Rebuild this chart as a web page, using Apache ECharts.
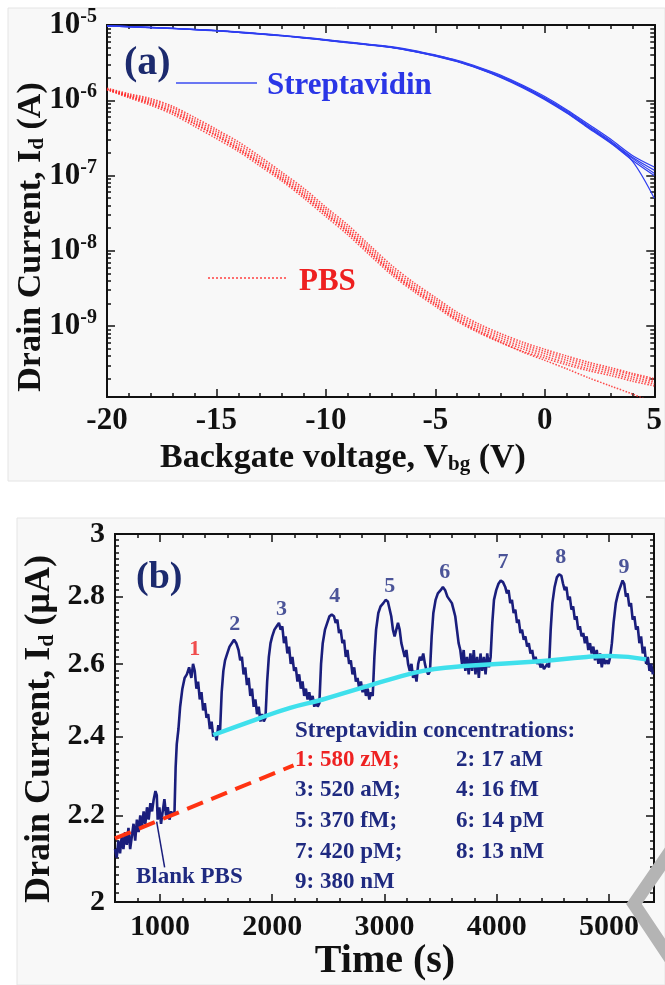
<!DOCTYPE html>
<html><head><meta charset="utf-8">
<script src="https://cdn.jsdelivr.net/npm/echarts@6/dist/echarts.min.js"></script>
<style>html,body{margin:0;padding:0;background:#fff}#c{width:665px;height:985px}</style>
</head><body><div id="c"></div>
<script>
// ---------- Panel (a) data ----------
const vbg = [-20,-19,-18,-17,-16,-15,-14,-13,-12,-11,-10,-9,-8,-7,-6,-5,-4,-3,-2,-1,0,1,2,3,4,5];
const strepA = [9.7e-6,9.5e-6,9.25e-6,9.0e-6,8.7e-6,8.4e-6,8.0e-6,7.6e-6,7.2e-6,6.75e-6,6.3e-6,5.85e-6,5.45e-6,5.05e-6,4.5e-6,3.9e-6,3.3e-6,2.65e-6,2.05e-6,1.51e-6,1.06e-6,7.05e-7,4.46e-7,2.82e-7,1.69e-7,1.07e-7];
const strepB = [9.7e-6,9.5e-6,9.3e-6,9.05e-6,8.75e-6,8.45e-6,8.1e-6,7.7e-6,7.3e-6,6.85e-6,6.4e-6,5.95e-6,5.55e-6,5.15e-6,4.62e-6,4.0e-6,3.4e-6,2.75e-6,2.15e-6,1.58e-6,1.12e-6,7.5e-7,4.8e-7,3.05e-7,1.85e-7,1.3e-7];
const strepC = [9.7e-6,9.45e-6,9.2e-6,8.95e-6,8.65e-6,8.35e-6,7.95e-6,7.55e-6,7.15e-6,6.7e-6,6.25e-6,5.8e-6,5.4e-6,5.0e-6,4.45e-6,3.85e-6,3.25e-6,2.6e-6,2.0e-6,1.46e-6,1.02e-6,6.75e-7,4.25e-7,2.7e-7,1.6e-7,1.0e-7];
const strepD = [9.7e-6,9.5e-6,9.25e-6,9.0e-6,8.7e-6,8.4e-6,8.0e-6,7.6e-6,7.2e-6,6.75e-6,6.3e-6,5.85e-6,5.45e-6,5.02e-6,4.47e-6,3.87e-6,3.27e-6,2.62e-6,2.02e-6,1.49e-6,1.04e-6,6.9e-7,4.35e-7,2.75e-7,1.55e-7,5.0e-8];
const strepE = [9.75e-6,9.55e-6,9.3e-6,9.05e-6,8.75e-6,8.45e-6,8.05e-6,7.65e-6,7.25e-6,6.8e-6,6.35e-6,5.9e-6,5.5e-6,5.08e-6,4.55e-6,3.95e-6,3.35e-6,2.7e-6,2.1e-6,1.54e-6,1.08e-6,7.25e-7,4.6e-7,2.9e-7,1.75e-7,1.18e-7];
const pbsA = [1.4e-6,1.15e-6,9.6e-7,7.4e-7,5.2e-7,3.6e-7,2.4e-7,1.53e-7,9.6e-8,5.8e-8,3.3e-8,1.89e-8,1.02e-8,5.5e-9,3.3e-9,2.1e-9,1.33e-9,9.3e-10,6.9e-10,5.3e-10,4.3e-10,3.5e-10,2.9e-10,2.5e-10,2.1e-10,1.8e-10];
const pbsB = [1.45e-6,1.22e-6,1.05e-6,8.3e-7,5.9e-7,4.1e-7,2.8e-7,1.78e-7,1.1e-7,6.7e-8,3.8e-8,2.2e-8,1.18e-8,6.4e-9,3.8e-9,2.4e-9,1.52e-9,1.06e-9,7.9e-10,6.1e-10,4.9e-10,4.0e-10,3.3e-10,2.8e-10,2.35e-10,2.0e-10];
const pbsC = [1.38e-6,1.08e-6,8.6e-7,6.5e-7,4.5e-7,3.1e-7,2.1e-7,1.33e-7,8.4e-8,5.0e-8,2.85e-8,1.63e-8,8.8e-9,4.8e-9,2.9e-9,1.83e-9,1.16e-9,8.1e-10,6.0e-10,4.6e-10,3.75e-10,3.05e-10,2.55e-10,2.2e-10,1.85e-10,1.6e-10];
const pbsD = [1.4e-6,1.12e-6,9.2e-7,7.0e-7,4.9e-7,3.4e-7,2.25e-7,1.45e-7,9.0e-8,5.4e-8,3.1e-8,1.78e-8,9.6e-9,5.2e-9,3.1e-9,1.95e-9,1.22e-9,8.4e-10,6.1e-10,4.5e-10,3.5e-10,2.7e-10,2.05e-10,1.6e-10,1.25e-10,9.5e-11];
const pbsE = [1.42e-6,1.18e-6,1.0e-6,7.9e-7,5.5e-7,3.85e-7,2.6e-7,1.65e-7,1.03e-7,6.2e-8,3.55e-8,2.03e-8,1.1e-8,5.9e-9,3.55e-9,2.25e-9,1.42e-9,9.9e-10,7.4e-10,5.7e-10,4.6e-10,3.75e-10,3.1e-10,2.65e-10,2.25e-10,1.9e-10];
const pbsF = [1.39e-6,1.12e-6,9.0e-7,6.9e-7,4.85e-7,3.35e-7,2.25e-7,1.43e-7,8.9e-8,5.4e-8,3.08e-8,1.76e-8,9.5e-9,5.15e-9,3.1e-9,1.97e-9,1.24e-9,8.7e-10,6.45e-10,4.95e-10,4.0e-10,3.25e-10,2.7e-10,2.35e-10,1.97e-10,1.7e-10];
const currentTickLabelsA = [1e-9,1e-8,1e-7,1e-6,1e-5];

// ---------- Panel (b) data ----------
const traceTimeCurrent = [
[600,2.12],[615,2.10],[630,2.14],[645,2.11],[660,2.15],[675,2.12],[690,2.16],[705,2.13],[720,2.17],[735,2.12],
[750,2.15],[765,2.18],[780,2.14],[795,2.19],[810,2.16],[825,2.20],[840,2.17],[855,2.21],[870,2.18],[885,2.22],
[900,2.19],[915,2.23],[930,2.21],[945,2.24],[960,2.26],[972,2.25],[980,2.19],[995,2.22],[1010,2.18],[1025,2.21],
[1040,2.24],[1055,2.20],[1070,2.22],[1085,2.19],[1100,2.21],[1115,2.20],[1130,2.21],
[1140,2.32],[1150,2.38],[1165,2.42],[1180,2.48],[1200,2.53],[1220,2.56],[1240,2.57],[1260,2.59],[1280,2.56],[1295,2.60],[1310,2.58],
[1325,2.53],[1340,2.55],[1355,2.50],[1370,2.52],[1385,2.47],[1400,2.49],[1415,2.45],[1430,2.46],[1445,2.42],[1460,2.44],
[1475,2.40],[1490,2.41],[1505,2.39],[1520,2.43],[1535,2.41],
[1550,2.52],[1565,2.58],[1580,2.61],[1600,2.63],[1620,2.65],[1640,2.66],[1660,2.67],[1680,2.66],[1700,2.64],[1715,2.61],
[1730,2.62],[1745,2.57],[1760,2.59],[1775,2.54],[1790,2.56],[1805,2.51],[1820,2.53],[1835,2.48],[1850,2.50],[1865,2.46],
[1880,2.48],[1895,2.44],[1910,2.46],[1925,2.44],[1940,2.45],
[1955,2.55],[1970,2.62],[1985,2.66],[2000,2.68],[2020,2.70],[2040,2.71],[2060,2.72],[2075,2.70],[2090,2.71],[2105,2.66],
[2120,2.68],[2135,2.63],[2150,2.65],[2165,2.60],[2180,2.62],[2195,2.58],[2210,2.59],[2225,2.55],[2240,2.57],[2255,2.53],
[2270,2.55],[2285,2.51],[2300,2.53],[2315,2.50],[2330,2.52],[2345,2.49],[2360,2.51],[2375,2.48],[2390,2.50],[2405,2.48],[2420,2.49],
[2435,2.60],[2450,2.66],[2470,2.70],[2490,2.72],[2510,2.74],[2530,2.745],[2550,2.74],[2565,2.72],[2580,2.73],[2595,2.69],
[2610,2.70],[2625,2.66],[2640,2.67],[2655,2.62],[2670,2.64],[2685,2.60],[2700,2.61],[2715,2.57],[2730,2.59],[2745,2.55],
[2760,2.56],[2775,2.53],[2790,2.55],[2805,2.52],[2820,2.54],[2835,2.51],[2850,2.53],[2865,2.50],[2880,2.52],[2895,2.51],
[2910,2.62],[2925,2.70],[2945,2.75],[2965,2.77],[2990,2.78],[3010,2.79],[3030,2.785],[3045,2.78],[3060,2.74],[3075,2.70],
[3090,2.68],[3105,2.70],[3120,2.72],[3135,2.70],[3150,2.66],[3165,2.64],[3180,2.62],[3195,2.64],[3210,2.60],[3225,2.58],
[3240,2.60],[3255,2.56],[3270,2.58],[3285,2.55],[3300,2.60],[3315,2.62],[3330,2.61],[3345,2.63],[3360,2.60],[3375,2.58],
[3390,2.57],[3405,2.58],
[3420,2.68],[3435,2.75],[3455,2.79],[3475,2.81],[3500,2.82],[3520,2.83],[3540,2.82],[3560,2.80],[3580,2.79],[3600,2.78],
[3615,2.76],[3630,2.74],[3645,2.70],[3660,2.66],[3675,2.64],[3690,2.60],[3705,2.64],[3720,2.58],[3735,2.62],[3750,2.57],
[3765,2.63],[3780,2.58],[3795,2.64],[3810,2.57],[3825,2.62],[3840,2.56],[3855,2.63],[3870,2.58],[3885,2.62],[3900,2.57],
[3915,2.63],[3930,2.59],[3945,2.62],
[3960,2.72],[3975,2.79],[3995,2.82],[4015,2.84],[4035,2.85],[4055,2.845],[4075,2.83],[4090,2.81],[4105,2.82],[4120,2.78],
[4135,2.79],[4150,2.75],[4165,2.76],[4180,2.72],[4195,2.73],[4210,2.69],[4225,2.70],[4240,2.67],[4255,2.68],[4270,2.65],
[4285,2.66],[4300,2.63],[4315,2.64],[4330,2.61],[4345,2.62],[4360,2.60],[4375,2.61],[4390,2.59],[4405,2.60],[4420,2.585],
[4435,2.59],[4450,2.60],[4465,2.59],
[4480,2.70],[4495,2.78],[4515,2.83],[4535,2.86],[4555,2.87],[4575,2.865],[4590,2.84],[4605,2.82],[4620,2.83],[4635,2.79],
[4650,2.80],[4665,2.76],[4680,2.77],[4695,2.73],[4710,2.74],[4725,2.70],[4740,2.71],[4755,2.68],[4770,2.69],[4785,2.66],
[4800,2.68],[4815,2.64],[4830,2.66],[4845,2.63],[4860,2.65],[4875,2.61],[4890,2.64],[4905,2.60],[4920,2.63],[4935,2.59],
[4950,2.62],[4965,2.60],[4980,2.61],[4995,2.60],[5010,2.62],
[5025,2.66],[5040,2.72],[5060,2.78],[5080,2.81],[5100,2.83],[5120,2.85],[5135,2.84],[5150,2.80],[5165,2.81],[5180,2.77],
[5195,2.78],[5210,2.73],[5225,2.74],[5240,2.70],[5255,2.71],[5270,2.66],[5285,2.68],[5300,2.63],[5315,2.65],[5330,2.60],
[5345,2.62],[5360,2.58],[5375,2.60],[5390,2.57]
];
const fitT = [1475,1860,2160,2450,2750,3050,3345,3640,3850,4355,4800,5010,5330];
const fitV = [2.404,2.446,2.477,2.50,2.528,2.556,2.58,2.592,2.597,2.607,2.62,2.623,2.613];
const blankFitT = [600,2190];
const blankFitV = [2.145,2.325];
const pointerT = [1042,971];
const pointerV = [2.078,2.185];
const peakNames = ['1','2','3','4','5','6','7','8','9'];
const peakT = [1310,1666,2082,2557,3047,3537,4055,4569,5133];
const peakLabelV = [2.642,2.716,2.761,2.802,2.833,2.876,2.909,2.925,2.893];
const timeTickLabels = [1000,2000,3000,4000,5000];
const currentTickLabelsB = [2,2.2,2.4,2.6,2.8,3];
const concLeft = ['1: 580 zM;','3: 520 aM;','5: 370 fM;','7: 420 pM;','9: 380 nM'];
const concRight = ['2: 17 aM','4: 16 fM','6: 14 pM','8: 13 nM'];

// ---------- helpers ----------
const FONT = "'Liberation Serif','Times New Roman',serif";
const INK = '#111';
const NAVY = '#1f2a80';
const minorA = [];
for (let n = -10; n <= -6; n++) for (let k = 2; k <= 9; k++) minorA.push(+(k * Math.pow(10, n)).toPrecision(3));
const minorB = [];
for (let k = 1; k < 50; k++) { if (k % 10 !== 0) minorB.push(+(2 + k * 0.02).toFixed(2)); }

const lineCol = {color: INK, width: 2};
const tickCol = {color: INK, width: 1.5};
const labelBase = {fontFamily: FONT, fontWeight: 'bold', color: INK};

function yLog(grid, pos, min, max, ticks, len, labels) {
  const ax = {
    type: 'log', logBase: 10, gridIndex: grid, position: pos, min: min, max: max,
    axisLine: {show: true, onZero: false, lineStyle: lineCol},
    axisTick: {show: true, inside: true, length: len, customValues: ticks, lineStyle: tickCol},
    axisLabel: {show: false},
    splitLine: {show: false}, minorTick: {show: false}
  };
  if (labels) ax.axisLabel = Object.assign({show: true, customValues: ticks}, labels);
  return ax;
}
function xVal(grid, pos, min, max, extra) {
  return Object.assign({
    type: 'value', gridIndex: grid, position: pos, min: min, max: max,
    axisLine: {show: true, onZero: false, lineStyle: lineCol},
    axisTick: {show: true, inside: true, length: 8, lineStyle: tickCol},
    axisLabel: {show: false},
    splitLine: {show: false}
  }, extra);
}

const expLabel = {
  margin: 10, formatter: v => '{b|10}{s|' + Math.round(Math.log10(v)) + '}',
  rich: {
    b: Object.assign({fontSize: 31}, labelBase),
    s: Object.assign({fontSize: 20, padding: [0, 0, 16, 0]}, labelBase)
  }
};
const decLabel = Object.assign({fontSize: 30, margin: 10, formatter: v => String(+(+v).toFixed(1))}, labelBase);

const blueSets = [strepA, strepB, strepC, strepD, strepE];
const redSets = [pbsA, pbsB, pbsC, pbsD, pbsE, pbsF];
const series = [];
redSets.forEach(arr => series.push({
  type: 'line', xAxisIndex: 0, yAxisIndex: 0, symbol: 'none', smooth: 0.3, silent: true,
  data: vbg.map((v, i) => [v, arr[i]]),
  lineStyle: {color: '#ff2a2a', width: 1.5, type: 'dotted', opacity: 0.85}
}));
blueSets.forEach(arr => series.push({
  type: 'line', xAxisIndex: 0, yAxisIndex: 0, symbol: 'none', smooth: 0.3, silent: true,
  data: vbg.map((v, i) => [v, arr[i]]),
  lineStyle: {color: '#2f3ef0', width: 1.2}
}));
series.push({
  type: 'line', xAxisIndex: 2, yAxisIndex: 4, symbol: 'none', silent: true,
  data: traceTimeCurrent, lineStyle: {color: '#1a1e7c', width: 2.6}
});
series.push({
  type: 'line', xAxisIndex: 2, yAxisIndex: 4, symbol: 'none', smooth: true, silent: true,
  data: fitT.map((t, i) => [t, fitV[i]]), lineStyle: {color: '#3fe0ec', width: 4.5}
});
series.push({
  type: 'line', xAxisIndex: 2, yAxisIndex: 4, symbol: 'none', silent: true,
  data: blankFitT.map((t, i) => [t, blankFitV[i]]), lineStyle: {color: '#ff3312', width: 4, type: [17, 9]}
});
series.push({
  type: 'line', xAxisIndex: 2, yAxisIndex: 4, symbol: 'none', silent: true,
  data: pointerT.map((t, i) => [t, pointerV[i]]), lineStyle: {color: '#1a1e7c', width: 1.5}
});
series.push({
  type: 'scatter', xAxisIndex: 2, yAxisIndex: 4, symbolSize: 1, silent: true,
  itemStyle: {color: 'rgba(0,0,0,0)'},
  data: peakT.map((t, i) => ({
    name: peakNames[i], value: [t, peakLabelV[i]],
    label: {color: i === 0 ? '#ee2222' : NAVY}
  })),
  label: {show: true, position: 'inside', formatter: p => p.name, fontSize: 22, fontFamily: FONT, fontWeight: 'bold'}
});

function txt(x, y, text, size, fill, extra) {
  return {
    type: 'text', x: x, y: y, z: 100, silent: true,
    style: Object.assign({text: text, fontSize: size, fontFamily: FONT, fontWeight: 'bold', fill: fill, align: 'left', verticalAlign: 'middle'}, extra || {})
  };
}
function richName(x, y, text, size, rot) {
  return {
    type: 'text', x: x, y: y, z: 100, silent: true, rotation: rot || 0,
    style: {
      text: text, align: 'center', verticalAlign: 'middle', fill: INK,
      rich: {
        m: {fontSize: size, fontFamily: FONT, fontWeight: 'bold', fill: INK},
        d: {fontSize: Math.round(size * 0.62), fontFamily: FONT, fontWeight: 'bold', fill: INK, padding: [Math.round(size * 0.42), 0, 0, 0]}
      }
    }
  };
}

const graphic = [
  {type: 'rect', z: -100, silent: true, shape: {x: 8, y: 8, width: 657, height: 473}, style: {fill: '#f8f8f8', stroke: '#e4e4e4', lineWidth: 1}},
  {type: 'rect', z: -100, silent: true, shape: {x: 17, y: 518, width: 648, height: 467}, style: {fill: '#f8f8f8', stroke: '#e4e4e4', lineWidth: 1}},
  txt(124, 64, '(a)', 40, '#1c2a6e'),
  {type: 'line', z: 100, silent: true, shape: {x1: 176, y1: 83, x2: 257, y2: 83}, style: {stroke: '#3b4cf2', lineWidth: 1.5}},
  txt(267, 86, 'Streptavidin', 31, '#2a36e6'),
  {type: 'line', z: 100, silent: true, shape: {x1: 208, y1: 278, x2: 288, y2: 278}, style: {stroke: '#ff4040', lineWidth: 1.5, lineDash: [2, 2]}},
  txt(299, 282, 'PBS', 31, '#ee2020'),
  richName(31, 237, '{m|Drain Current, I}{d|d}{m| (A)}', 34, Math.PI / 2),
  richName(343, 458, '{m|Backgate voltage, V}{d|bg}{m| (V)}', 34, 0),
  txt(136, 578, '(b)', 38, '#1c2a6e'),
  richName(40, 729, '{m|Drain Current, I}{d|d}{m| (\u03bcA)}', 36, Math.PI / 2),
  richName(385, 962, '{m|Time (s)}', 40, 0),
  txt(295, 731, 'Streptavidin concentrations:', 23, NAVY),
  txt(136, 877, 'Blank PBS', 23, NAVY),
  {type: 'polyline', z: 90, silent: true, shape: {points: [[674, 846], [634, 904], [674, 964]]}, style: {stroke: '#b4b4b4', lineWidth: 13, fill: null, lineJoin: 'miter'}}
];
const rowY = [760, 790, 821, 852, 882];
concLeft.forEach((s, i) => graphic.push(txt(295, rowY[i], s, 23, i === 0 ? '#ee2222' : NAVY)));
concRight.forEach((s, i) => graphic.push(txt(456, rowY[i], s, 23, NAVY)));

const option = {
  animation: false,
  backgroundColor: '#ffffff',
  grid: [
    {left: 107, top: 25, width: 550, height: 372},
    {left: 115, top: 534, width: 539, height: 368}
  ],
  xAxis: [
    xVal(0, 'bottom', -20, 5, {interval: 5,
      minorTick: {show: true, splitNumber: 5, length: 4, lineStyle: tickCol},
      axisLabel: Object.assign({show: true, fontSize: 31, margin: 8}, labelBase)}),
    xVal(0, 'top', -20, 5, {interval: 5,
      minorTick: {show: true, splitNumber: 5, length: 4, lineStyle: tickCol}}),
    xVal(1, 'bottom', 600, 5400, {
      axisTick: {show: true, inside: true, length: 8, customValues: timeTickLabels, lineStyle: tickCol},
      axisLabel: Object.assign({show: true, customValues: timeTickLabels, fontSize: 30, margin: 10, formatter: v => String(v)}, labelBase)}),
    xVal(1, 'bottom', 600, 5400, {interval: 200, axisLine: {show: false},
      axisTick: {show: true, inside: true, length: 4, lineStyle: tickCol}}),
    xVal(1, 'top', 600, 5400, {
      axisTick: {show: true, inside: true, length: 8, customValues: timeTickLabels, lineStyle: tickCol}}),
    xVal(1, 'top', 600, 5400, {interval: 200, axisLine: {show: false},
      axisTick: {show: true, inside: true, length: 4, lineStyle: tickCol}})
  ],
  yAxis: [
    yLog(0, 'left', 1.14e-10, 1e-5, currentTickLabelsA, 8, expLabel),
    yLog(0, 'left', 1.14e-10, 1e-5, minorA, 4),
    yLog(0, 'right', 1.14e-10, 1e-5, currentTickLabelsA, 8),
    yLog(0, 'right', 1.14e-10, 1e-5, minorA, 4),
    yLog(1, 'left', 2, 3, currentTickLabelsB, 8, decLabel),
    yLog(1, 'left', 2, 3, minorB, 4),
    yLog(1, 'right', 2, 3, currentTickLabelsB, 8),
    yLog(1, 'right', 2, 3, minorB, 4)
  ],
  series: series,
  graphic: graphic
};
const chart = echarts.init(document.getElementById('c'), null, {renderer: 'canvas'});
chart.setOption(option);
</script>
</body></html>
